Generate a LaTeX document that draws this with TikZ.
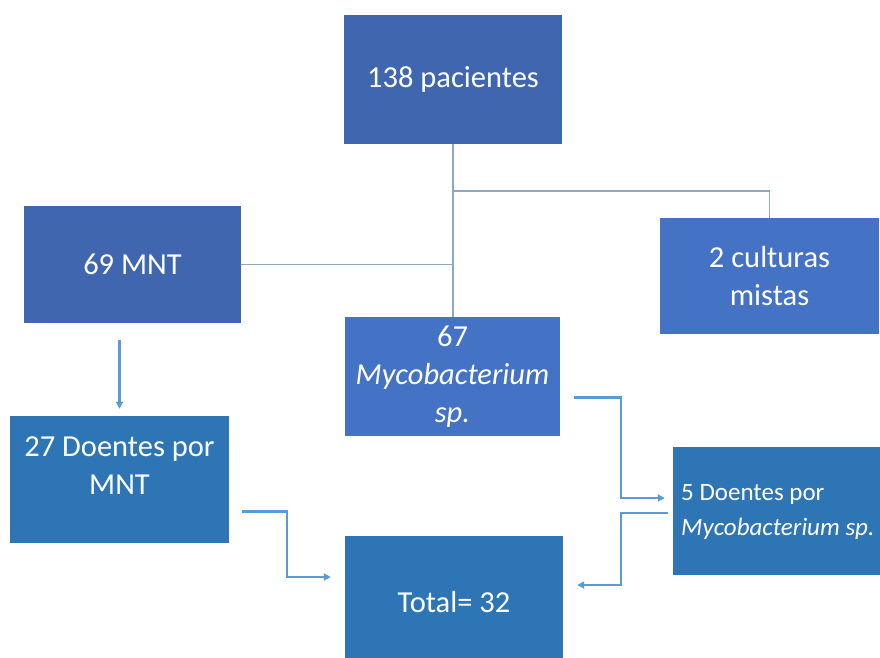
\documentclass[tikz,border=0pt]{standalone}
\usepackage{fontspec}
\setmainfont{Carlito}
\usetikzlibrary{arrows.meta}
\definecolor{darkbox}{HTML}{4066B0}
\definecolor{midbox}{HTML}{4472C4}
\definecolor{lightbox}{HTML}{2E75B6}
\definecolor{treeline}{HTML}{8EA7C2}
\definecolor{arrowline}{HTML}{5B9BD5}

\begin{document}
\begin{tikzpicture}[x=1pt, y=-1pt,
  box/.style={inner sep=0pt, text=white, align=center, font=\fontsize{30.5}{38}\selectfont},
  txt/.style={inner sep=0pt, text=white, align=center, font=\fontsize{30.5}{38}\selectfont},
  tree/.style={treeline, line width=1.6pt},
  arr/.style={arrowline, line width=2.6pt, -{Triangle[length=7pt,width=7pt]}}]
  \useasboundingbox (0,0) rectangle (880,657);
  \node[box, fill=darkbox, minimum width=218pt, minimum height=129pt] (pac) at (453,79.5) {138 pacientes};
  \node[box, fill=darkbox, minimum width=217pt, minimum height=117pt] (mnt69) at (132.5,264.5) {69 MNT};
  \node[box, fill=midbox, minimum width=219pt, minimum height=116pt] (cult) at (769.5,276) {2 culturas\\mistas};
  \node[box, fill=midbox, minimum width=215pt, minimum height=119pt] (myco) at (452.5,376.5) {67\\\textit{Mycobacterium}\\\textit{sp.}};
  \node[box, fill=lightbox, minimum width=219pt, minimum height=127pt] (dnt27) at (119.5,479.5) {};
  \node[txt] (dnt27txt) at (119.5,466) {27 Doentes por\\MNT};
  \node[box, fill=lightbox, minimum width=218pt, minimum height=132pt] (total) at (454,602) {Total= 32};
  \node[box, fill=lightbox, minimum width=207pt, minimum height=128pt] (dnt5) at (776.5,511) {};
  \node[txt, anchor=west, align=left, font=\fontsize{25}{35}\selectfont] (dnt5txt) at (681,512) {5 Doentes por\\\textit{Mycobacterium} \textit{sp.}};

  \draw[tree] (pac.south) -- (pac.south |- myco.north);
  \draw[tree] (pac.south |- 0,191) -| (cult.north);
  \draw[tree] (mnt69.east) -- (pac.south |- mnt69.east);

  \draw[arr, shorten <=17pt, shorten >=7pt] (mnt69.south -| dnt27.north) -- (dnt27.north);
  \draw[arr, shorten <=13pt, shorten >=14pt] ([yshift=-32pt]dnt27.east) -| (287,577) -- ([yshift=25pt]total.west);
  \draw[arr, shorten <=14pt, shorten >=8pt] ([yshift=-21pt]myco.east) -| (621,498) -- ([yshift=13pt]dnt5.west);
  \draw[arr, shorten <=5pt, shorten >=14pt] ([yshift=-2pt]dnt5.west) -| (621,585) -- ([yshift=17pt]total.east);
\end{tikzpicture}
\end{document}
